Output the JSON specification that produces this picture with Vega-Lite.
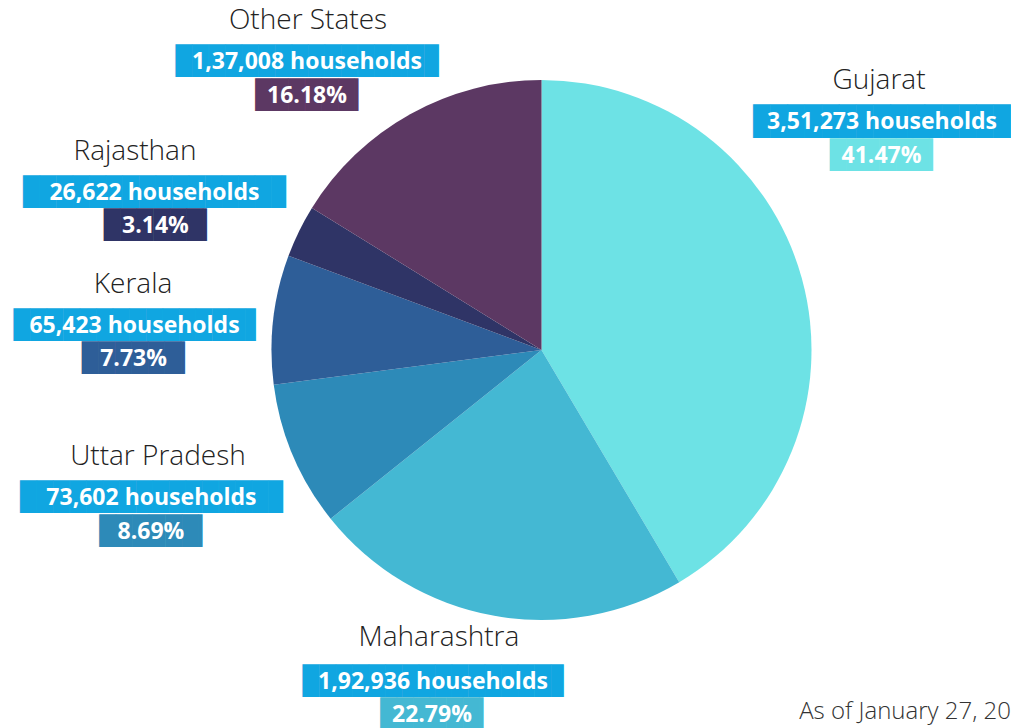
{
  "$schema": "https://vega.github.io/schema/vega-lite/v6.json",
  "width": 939,
  "height": 700,
  "autosize": "none",
  "padding": {"left": 72, "top": 0, "right": 0, "bottom": 28},
  "background": "white",
  "config": {"view": {"stroke": null}},
  "title": {"text": "As of January 27, 20", "orient": "bottom", "anchor": "end", "frame": "group", "offset": -134, "font": "Open Sans", "fontWeight": 300, "fontSize": 24, "color": "#333333"},
  "data": {"values": [
    {"idx": 1, "state": "Gujarat", "households": 351273, "hh_text": "3,51,273 households", "share": 0.4147},
    {"idx": 2, "state": "Maharashtra", "households": 192936, "hh_text": "1,92,936 households", "share": 0.2279},
    {"idx": 3, "state": "Uttar Pradesh", "households": 73602, "hh_text": "73,602 households", "share": 0.0869},
    {"idx": 4, "state": "Kerala", "households": 65423, "hh_text": "65,423 households", "share": 0.0773},
    {"idx": 5, "state": "Rajasthan", "households": 26622, "hh_text": "26,622 households", "share": 0.0314},
    {"idx": 6, "state": "Other States", "households": 137008, "hh_text": "1,37,008 households", "share": 0.1618}
  ]},
  "encoding": {
    "theta": {"field": "households", "type": "quantitative", "stack": true},
    "order": {"field": "idx", "type": "quantitative"}
  },
  "layer": [
    {"mark": {"type": "arc", "outerRadius": 270},
     "encoding": {"color": {"field": "state", "type": "nominal", "legend": null,
       "scale": {"domain": ["Gujarat", "Maharashtra", "Uttar Pradesh", "Kerala", "Rajasthan", "Other States"],
                 "range": ["#6de2e5", "#44b8d3", "#2d8ab8", "#2e5e98", "#2f3466", "#5c3863"]}}}},

    {"layer": [
      {"mark": {"type": "text", "radius": 390, "dx": -38.6, "dy": -165.8, "font": "Open Sans", "fontWeight": 300, "fontSize": 28, "color": "#222222", "align": "center", "baseline": "middle"},
       "encoding": {"text": {"condition": {"test": "datum.state === 'Gujarat'", "field": "state"}, "value": ""}}},
      {"mark": {"type": "text", "radius": 390, "dx": -35.9, "dy": -124.5, "font": "DejaVu Sans Mono", "fontSize": 28.5, "color": "#10a6e1", "align": "center", "baseline": "middle"},
       "encoding": {"text": {"condition": {"test": "datum.state === 'Gujarat'", "value": "███████████████"}, "value": ""}}},
      {"mark": {"type": "text", "radius": 390, "dx": -35.6, "dy": -124.5, "font": "Open Sans", "fontWeight": "bold", "fontSize": 23, "color": "white", "align": "center", "baseline": "middle"},
       "encoding": {"text": {"condition": {"test": "datum.state === 'Gujarat'", "field": "hh_text"}, "value": ""}}},
      {"mark": {"type": "text", "radius": 390, "dx": -29.9, "dy": -90.5, "font": "DejaVu Sans Mono", "fontSize": 27.5, "align": "center", "baseline": "middle"},
       "encoding": {"color": {"field": "state", "type": "nominal", "legend": null},
                    "text": {"condition": {"test": "datum.state === 'Gujarat'", "value": "██████▎"}, "value": ""}}},
      {"mark": {"type": "text", "radius": 390, "dx": -36.1, "dy": -90.5, "font": "Open Sans", "fontWeight": "bold", "fontSize": 23, "color": "white", "align": "center", "baseline": "middle"},
       "encoding": {"text": {"condition": {"test": "datum.state === 'Gujarat'", "field": "share", "type": "quantitative", "format": ".2%"}, "value": ""}}}
    ]},

    {"layer": [
      {"mark": {"type": "text", "radius": 390, "dx": -32.6, "dy": -95.7, "font": "Open Sans", "fontWeight": 300, "fontSize": 28, "color": "#222222", "align": "center", "baseline": "middle"},
       "encoding": {"text": {"condition": {"test": "datum.state === 'Maharashtra'", "field": "state"}, "value": ""}}},
      {"mark": {"type": "text", "radius": 390, "dx": -36.5, "dy": -51.4, "font": "DejaVu Sans Mono", "fontSize": 27.5, "color": "#10a6e1", "align": "center", "baseline": "middle"},
       "encoding": {"text": {"condition": {"test": "datum.state === 'Maharashtra'", "value": "███████████████▊"}, "value": ""}}},
      {"mark": {"type": "text", "radius": 390, "dx": -38.6, "dy": -51.4, "font": "Open Sans", "fontWeight": "bold", "fontSize": 23, "color": "white", "align": "center", "baseline": "middle"},
       "encoding": {"text": {"condition": {"test": "datum.state === 'Maharashtra'", "field": "hh_text"}, "value": ""}}},
      {"mark": {"type": "text", "radius": 390, "dx": -33.4, "dy": -18.4, "font": "DejaVu Sans Mono", "fontSize": 27.5, "align": "center", "baseline": "middle"},
       "encoding": {"color": {"field": "state", "type": "nominal", "legend": null},
                    "text": {"condition": {"test": "datum.state === 'Maharashtra'", "value": "██████▎"}, "value": ""}}},
      {"mark": {"type": "text", "radius": 390, "dx": -39.6, "dy": -18.4, "font": "Open Sans", "fontWeight": "bold", "fontSize": 23, "color": "white", "align": "center", "baseline": "middle"},
       "encoding": {"text": {"condition": {"test": "datum.state === 'Maharashtra'", "field": "share", "type": "quantitative", "format": ".2%"}, "value": ""}}}
    ]},

    {"layer": [
      {"mark": {"type": "text", "radius": 390, "dx": -24.6, "dy": -45.5, "font": "Open Sans", "fontWeight": 300, "fontSize": 28, "color": "#222222", "align": "center", "baseline": "middle"},
       "encoding": {"text": {"condition": {"test": "datum.state === 'Uttar Pradesh'", "field": "state"}, "value": ""}}},
      {"mark": {"type": "text", "radius": 390, "dx": -30.1, "dy": -4.2, "font": "DejaVu Sans Mono", "fontSize": 27.5, "color": "#10a6e1", "align": "center", "baseline": "middle"},
       "encoding": {"text": {"condition": {"test": "datum.state === 'Uttar Pradesh'", "value": "███████████████▉"}, "value": ""}}},
      {"mark": {"type": "text", "radius": 390, "dx": -31.1, "dy": -4.2, "font": "Open Sans", "fontWeight": "bold", "fontSize": 23, "color": "white", "align": "center", "baseline": "middle"},
       "encoding": {"text": {"condition": {"test": "datum.state === 'Uttar Pradesh'", "field": "hh_text"}, "value": ""}}},
      {"mark": {"type": "text", "radius": 390, "dx": -25.4, "dy": 29.8, "font": "DejaVu Sans Mono", "fontSize": 27.5, "align": "center", "baseline": "middle"},
       "encoding": {"color": {"field": "state", "type": "nominal", "legend": null},
                    "text": {"condition": {"test": "datum.state === 'Uttar Pradesh'", "value": "██████▎"}, "value": ""}}},
      {"mark": {"type": "text", "radius": 390, "dx": -31.6, "dy": 29.8, "font": "Open Sans", "fontWeight": "bold", "fontSize": 23, "color": "white", "align": "center", "baseline": "middle"},
       "encoding": {"text": {"condition": {"test": "datum.state === 'Uttar Pradesh'", "field": "share", "type": "quantitative", "format": ".2%"}, "value": ""}}}
    ]},

    {"layer": [
      {"mark": {"type": "text", "radius": 390, "dx": -21, "dy": -20.6, "font": "Open Sans", "fontWeight": 300, "fontSize": 28, "color": "#222222", "align": "center", "baseline": "middle"},
       "encoding": {"text": {"condition": {"test": "datum.state === 'Kerala'", "field": "state"}, "value": ""}}},
      {"mark": {"type": "text", "radius": 390, "dx": -16.4, "dy": 20.7, "font": "DejaVu Sans Mono", "fontSize": 27.5, "color": "#10a6e1", "align": "center", "baseline": "middle"},
       "encoding": {"text": {"condition": {"test": "datum.state === 'Kerala'", "value": "██████████████▋"}, "value": ""}}},
      {"mark": {"type": "text", "radius": 390, "dx": -19.5, "dy": 20.7, "font": "Open Sans", "fontWeight": "bold", "fontSize": 23, "color": "white", "align": "center", "baseline": "middle"},
       "encoding": {"text": {"condition": {"test": "datum.state === 'Kerala'", "field": "hh_text"}, "value": ""}}},
      {"mark": {"type": "text", "radius": 390, "dx": -14.3, "dy": 53.7, "font": "DejaVu Sans Mono", "fontSize": 27.5, "align": "center", "baseline": "middle"},
       "encoding": {"color": {"field": "state", "type": "nominal", "legend": null},
                    "text": {"condition": {"test": "datum.state === 'Kerala'", "value": "██████▎"}, "value": ""}}},
      {"mark": {"type": "text", "radius": 390, "dx": -20.5, "dy": 53.7, "font": "Open Sans", "fontWeight": "bold", "fontSize": 23, "color": "white", "align": "center", "baseline": "middle"},
       "encoding": {"text": {"condition": {"test": "datum.state === 'Kerala'", "field": "share", "type": "quantitative", "format": ".2%"}, "value": ""}}}
    ]},

    {"layer": [
      {"mark": {"type": "text", "radius": 390, "dx": -56.3, "dy": -26.4, "font": "Open Sans", "fontWeight": 300, "fontSize": 28, "color": "#222222", "align": "center", "baseline": "middle"},
       "encoding": {"text": {"condition": {"test": "datum.state === 'Rajasthan'", "field": "state"}, "value": ""}}},
      {"mark": {"type": "text", "radius": 390, "dx": -35.8, "dy": 14.9, "font": "DejaVu Sans Mono", "fontSize": 27.5, "color": "#10a6e1", "align": "center", "baseline": "middle"},
       "encoding": {"text": {"condition": {"test": "datum.state === 'Rajasthan'", "value": "███████████████▉"}, "value": ""}}},
      {"mark": {"type": "text", "radius": 390, "dx": -36.8, "dy": 14.9, "font": "Open Sans", "fontWeight": "bold", "fontSize": 23, "color": "white", "align": "center", "baseline": "middle"},
       "encoding": {"text": {"condition": {"test": "datum.state === 'Rajasthan'", "field": "hh_text"}, "value": ""}}},
      {"mark": {"type": "text", "radius": 390, "dx": -29.6, "dy": 47.9, "font": "DejaVu Sans Mono", "fontSize": 27.5, "align": "center", "baseline": "middle"},
       "encoding": {"color": {"field": "state", "type": "nominal", "legend": null},
                    "text": {"condition": {"test": "datum.state === 'Rajasthan'", "value": "██████▎"}, "value": ""}}},
      {"mark": {"type": "text", "radius": 390, "dx": -35.8, "dy": 47.9, "font": "Open Sans", "fontWeight": "bold", "fontSize": 23, "color": "white", "align": "center", "baseline": "middle"},
       "encoding": {"text": {"condition": {"test": "datum.state === 'Rajasthan'", "field": "share", "type": "quantitative", "format": ".2%"}, "value": ""}}}
    ]},

    {"layer": [
      {"mark": {"type": "text", "radius": 390, "dx": -43.7, "dy": 11.7, "font": "Open Sans", "fontWeight": 300, "fontSize": 28, "color": "#222222", "align": "center", "baseline": "middle"},
       "encoding": {"text": {"condition": {"test": "datum.state === 'Other States'", "field": "state"}, "value": ""}}},
      {"mark": {"type": "text", "radius": 390, "dx": -43.7, "dy": 53.0, "font": "DejaVu Sans Mono", "fontSize": 27.5, "color": "#10a6e1", "align": "center", "baseline": "middle"},
       "encoding": {"text": {"condition": {"test": "datum.state === 'Other States'", "value": "███████████████▉"}, "value": ""}}},
      {"mark": {"type": "text", "radius": 390, "dx": -44.7, "dy": 53.0, "font": "Open Sans", "fontWeight": "bold", "fontSize": 23, "color": "white", "align": "center", "baseline": "middle"},
       "encoding": {"text": {"condition": {"test": "datum.state === 'Other States'", "field": "hh_text"}, "value": ""}}},
      {"mark": {"type": "text", "radius": 390, "dx": -38.5, "dy": 87.0, "font": "DejaVu Sans Mono", "fontSize": 27.5, "align": "center", "baseline": "middle"},
       "encoding": {"color": {"field": "state", "type": "nominal", "legend": null},
                    "text": {"condition": {"test": "datum.state === 'Other States'", "value": "██████▎"}, "value": ""}}},
      {"mark": {"type": "text", "radius": 390, "dx": -44.7, "dy": 87.0, "font": "Open Sans", "fontWeight": "bold", "fontSize": 23, "color": "white", "align": "center", "baseline": "middle"},
       "encoding": {"text": {"condition": {"test": "datum.state === 'Other States'", "field": "share", "type": "quantitative", "format": ".2%"}, "value": ""}}}
    ]}
  ]
}
